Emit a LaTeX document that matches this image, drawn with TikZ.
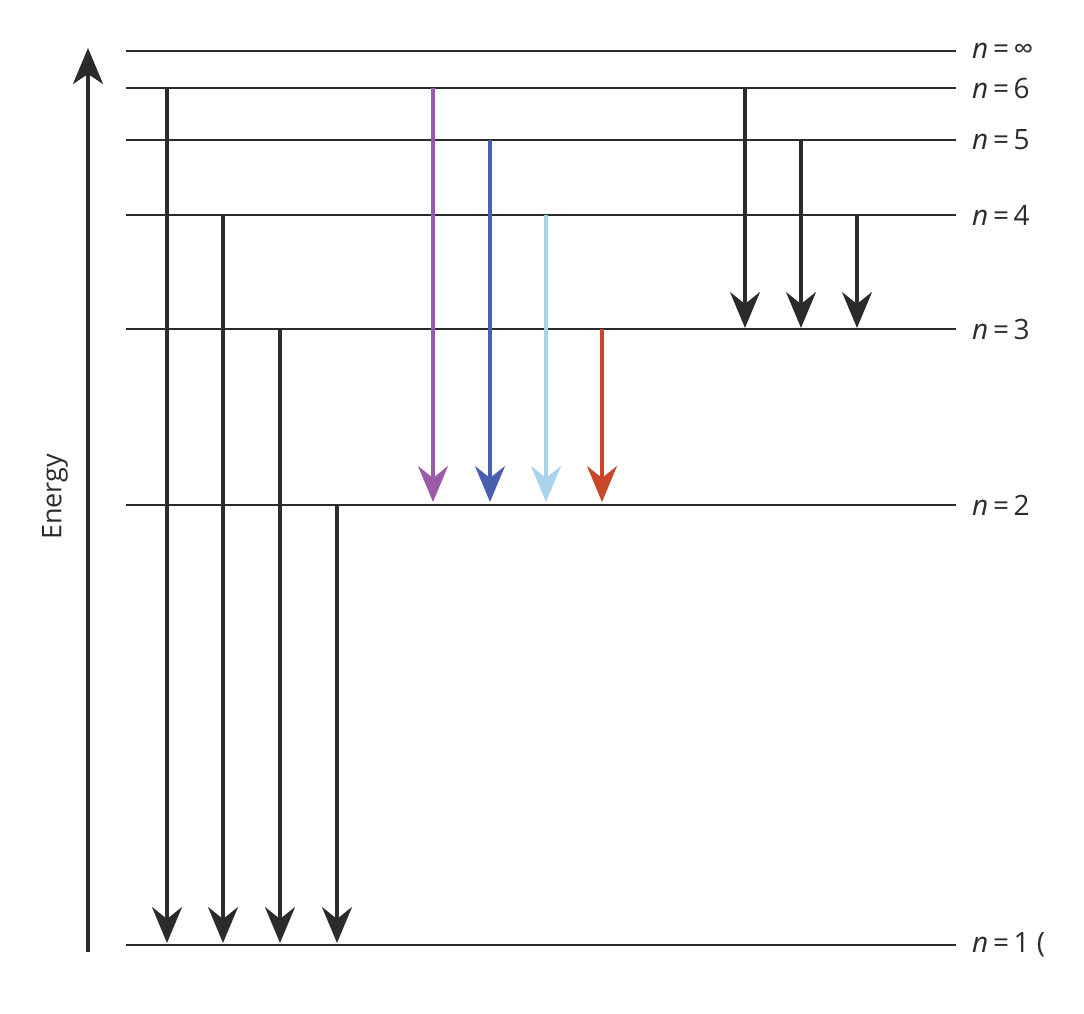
\documentclass[tikz,border=0pt]{standalone}
\usepackage{fontspec}
\setmainfont{Open Sans}
\usetikzlibrary{arrows.meta}
\definecolor{ink}{HTML}{2B2B2B}
\definecolor{cpur}{HTML}{9B5BA8}
\definecolor{cblu}{HTML}{4A5FAF}
\definecolor{clbl}{HTML}{A9D3EA}
\definecolor{cred}{HTML}{C8472A}
\tikzset{
  lvl/.style={draw=ink,line width=1.8pt},
  lbl/.style={anchor=west,text=ink,font=\fontsize{28}{28}\selectfont,inner sep=0pt},
  tr/.style={line width=3.2pt,-{Stealth[length=36pt,width=30pt,inset=12pt]}},
}
\begin{document}
\begin{tikzpicture}[x=1pt,y=-1pt]
\useasboundingbox (0,0) rectangle (1084,1014);
\foreach \n/\y/\t in {inf/51/∞,6/88/6,5/140/5,4/215/4,3/329/3,2/505/2}{
  \coordinate (L\n) at (126,\y);
  \coordinate (R\n) at (956,\y);
  \draw[lvl] (L\n) -- (R\n);
  \node[lbl] (T\n) at (972,\y) {\textit{n}\,=\,\t};
}
\coordinate (L1) at (126,945); \coordinate (R1) at (956,945);
\draw[lvl] (L1) -- (R1);
\node[lbl] (T1) at (972,945) {\textit{n}\,=\,1 (};
% energy axis
\coordinate (E0) at (88,952); \coordinate (E1) at (88,48);
\draw[line width=3.2pt,draw=ink,-{Stealth[length=36pt,width=30pt,inset=10pt]}] (E0) -- (E1);
\node[rotate=90,text=ink,font=\fontsize{27}{27}\selectfont] (en) at (55,497) {Energy};
% Lyman
\foreach \x/\y in {167/88,223/215,280/329,337/505}{
  \coordinate (a) at (\x,\y); \coordinate (b) at (\x,943);
  \draw[tr,ink] (a) -- (b);
}
% Balmer
\foreach \x/\y/\c in {433/88/cpur,490/140/cblu,546/215/clbl,602/329/cred}{
  \coordinate (a) at (\x,\y); \coordinate (b) at (\x,502);
  \draw[tr,\c] (a) -- (b);
}
% Paschen
\foreach \x/\y in {745/88,801/140,857/215}{
  \coordinate (a) at (\x,\y); \coordinate (b) at (\x,328);
  \draw[tr,ink] (a) -- (b);
}
\end{tikzpicture}
\end{document}
